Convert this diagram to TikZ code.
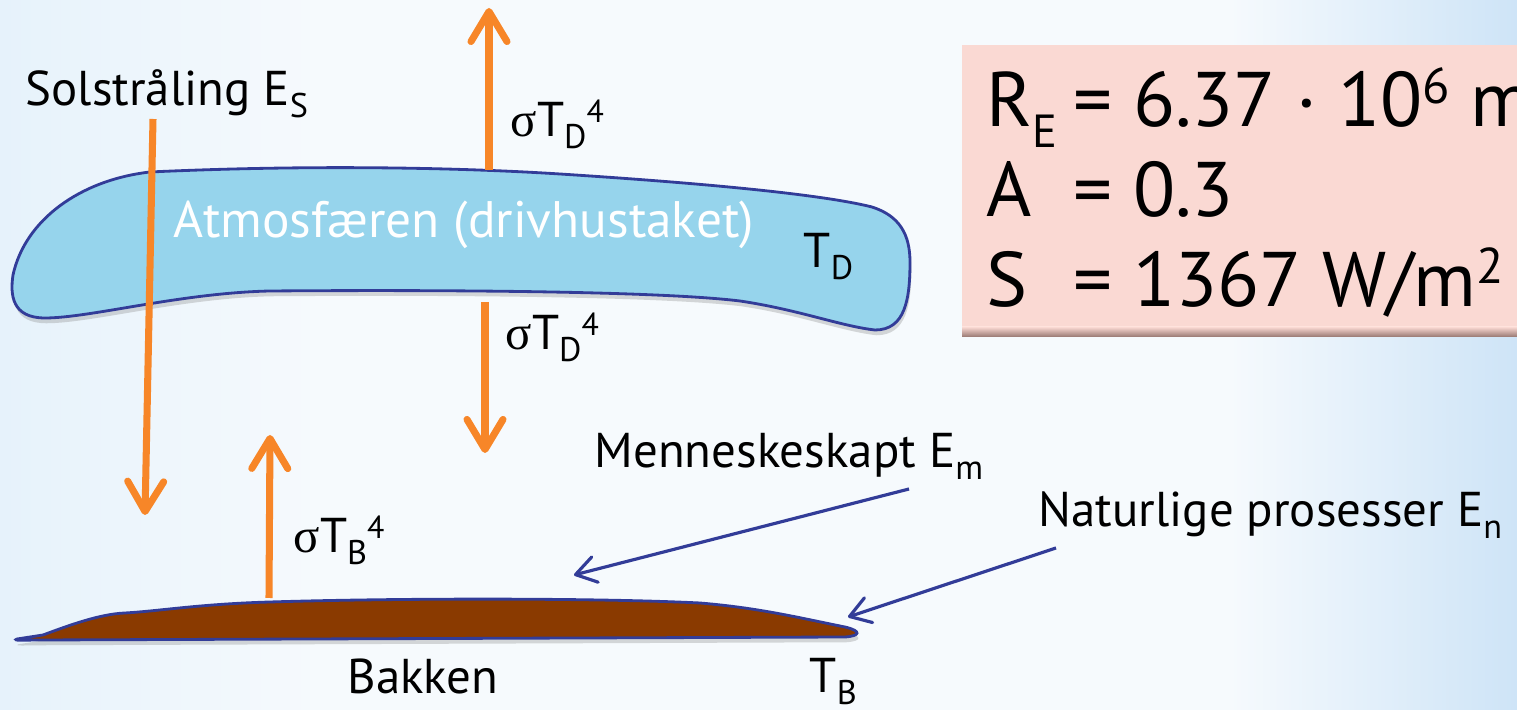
\documentclass[tikz,border=0pt]{standalone}
\usepackage{fontspec}
\setmainfont{PT Sans}
\newfontfamily\symfont{Liberation Serif}
\usetikzlibrary{positioning,arrows.meta,shadows}
\definecolor{skyfill}{RGB}{150,212,236}
\definecolor{rimblue}{RGB}{50,60,152}
\definecolor{soilbrown}{RGB}{138,58,0}
\definecolor{rayorange}{RGB}{247,134,40}
\definecolor{boxpink}{RGB}{250,217,211}
\definecolor{boxedge}{RGB}{150,118,112}
\definecolor{bgleft}{RGB}{230,242,251}
\definecolor{bgmid}{RGB}{246,250,253}
\definecolor{bgright}{RGB}{206,228,247}
\newcommand{\lo}[1]{\raisebox{-0.24em}{\scalebox{0.7}{#1}}}
\newcommand{\loE}[1]{\raisebox{-0.26em}{\scalebox{0.6}{#1}}}
\newcommand{\hi}[1]{\raisebox{0.3em}{\scalebox{0.65}{#1}}}
\newcommand{\sig}{{\symfont σ}}

\begin{document}
\begin{tikzpicture}[
  x=0.01cm,y=-0.01cm,
  lbl/.style={anchor=base west,inner sep=0pt,font=\fontsize{13.9}{16}\selectfont},
  val/.style={anchor=base west,inner sep=0pt,font=\fontsize{22}{26}\selectfont},
  ray/.style={-{Straight Barb[length=3mm,width=3.6mm,round]},line width=2pt,color=rayorange},
  pointer/.style={-{Straight Barb[length=2mm,width=2.6mm,round]},line width=0.9pt,color=rimblue},
  blob/.style={draw=rimblue,line width=0.8pt,drop shadow={opacity=0.3,shadow xshift=0.4pt,shadow yshift=-1.5pt}}
]
\useasboundingbox (0,0) rectangle (1517,710);
\fill[bgmid] (0,0) rectangle (1517,710);
\shade[left color=bgleft,right color=bgmid] (0,0) rectangle (320,710);
\shade[left color=bgmid,right color=bgright] (1230,0) rectangle (1517,710);

% constants box
\fill[boxpink] (962,45) rectangle (1517,327);
\shade[top color=boxpink,bottom color=boxedge] (962,327) rectangle (1517,337);
\node[val] (radius) at (986,127) {\makebox[1.12em][l]{R\loE{E}}= 6.37 · 10\hi{6} m};
\node[val] (albedo) at (986,217) {\makebox[1.12em][l]{A}= 0.3};
\node[val] (solar)  at (986,307) {\makebox[1.12em][l]{S}= 1367 W/m\hi{2}};

% atmosphere
\path[blob,fill=skyfill] (150,172) .. controls (300,165) and (450,167) .. (560,174)
  .. controls (700,183) and (820,194) .. (872,207)
  .. controls (900,216) and (910,235) .. (910,262)
  .. controls (910,300) and (905,330) .. (875,330)
  .. controls (840,326) and (800,310) .. (740,301)
  .. controls (650,290) and (400,290) .. (270,291)
  .. controls (180,293) and (90,318) .. (45,318)
  .. controls (12,318) and (10,295) .. (13,275)
  .. controls (25,220) and (80,180) .. (150,172) -- cycle;
\node[lbl,text=white,font=\fontsize{14.6}{17}\selectfont] (atmo) at (173,238) {Atmosfæren (drivhustaket)};
\node[lbl] (tempD) at (803,268) {T\lo{D}};

% ground
\path[blob,fill=soilbrown] (17,639) -- (43,635) .. controls (70,625) and (100,614) .. (125,613)
  .. controls (160,611) and (200,604) .. (270,602)
  .. controls (400,598) and (600,598) .. (700,603)
  .. controls (760,608) and (800,618) .. (845,627)
  .. controls (862,631) and (860,636) .. (845,637)
  -- (40,640) .. controls (25,640) and (12,641) .. (17,639) -- cycle;
\node[lbl] (ground) at (347,694) {Bakken};
\node[lbl] (tempB) at (809,693) {T\lo{B}};

% labels
\node[lbl] (sun) at (25,106) {Solstråling E\lo{S}};
\node[lbl] (emitUp) at (510,137) {\sig T\lo{D}\hi{4}};
\node[lbl] (emitDown) at (505,350) {\sig T\lo{D}\hi{4}};
\node[lbl] (emitGround) at (293,553) {\sig T\lo{B}\hi{4}};
\node[lbl] (human) at (594,468) {Menneskeskapt E\lo{m}};
\node[lbl] (nature) at (1038,527) {Naturlige prosesser E\lo{n}};

% rays
\coordinate (sunTail) at (153,119);
\coordinate (sunHead) at (145,515);
\coordinate (atmoTop) at (489,170);
\coordinate (space) at (489,8);
\coordinate (atmoBot) at (485,302);
\coordinate (surface) at (485,453);
\coordinate (groundTop) at (269,598);
\coordinate (groundUp) at (270,435);
\draw[ray] (sunTail) -- (sunHead);
\draw[ray] (atmoTop) -- (space);
\draw[ray] (atmoBot) -- (surface);
\draw[ray] (groundTop) -- (groundUp);

% pointers
\coordinate (humanTail) at (909,489);
\coordinate (humanHead) at (574,575);
\coordinate (natureTail) at (1056,548);
\coordinate (natureHead) at (848,617);
\draw[pointer] (humanTail) -- (humanHead);
\draw[pointer] (natureTail) -- (natureHead);
\end{tikzpicture}
\end{document}
